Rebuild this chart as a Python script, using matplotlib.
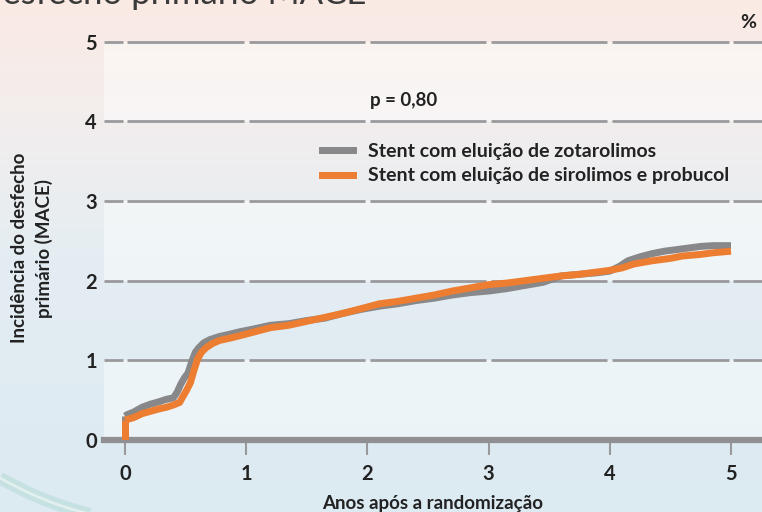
import numpy as np
import matplotlib.pyplot as plt
from matplotlib.lines import Line2D
from matplotlib.path import Path
from matplotlib.patches import PathPatch

plt.rcParams['font.family'] = ['Lato', 'DejaVu Sans']

# Kaplan-Meier style cumulative incidence (%)
years_zot = [0.0, 0.02, 0.07, 0.14, 0.21, 0.28, 0.34, 0.40, 0.43, 0.46, 0.49, 0.52,
             0.55, 0.58, 0.61, 0.65, 0.70, 0.78, 0.87, 0.95, 1.05, 1.20, 1.35, 1.50,
             1.65, 1.80, 1.95, 2.10, 2.25, 2.40, 2.55, 2.70, 2.85, 3.00, 3.15, 3.30,
             3.45, 3.60, 3.75, 3.90, 4.00, 4.08, 4.15, 4.25, 4.35, 4.45, 4.55, 4.65,
             4.75, 4.85, 5.00]
mace_zot = [0.30, 0.32, 0.35, 0.41, 0.45, 0.48, 0.51, 0.53, 0.60, 0.70, 0.78, 0.84,
            0.98, 1.10, 1.16, 1.22, 1.26, 1.30, 1.33, 1.36, 1.39, 1.44, 1.46, 1.50,
            1.53, 1.59, 1.64, 1.68, 1.71, 1.75, 1.78, 1.82, 1.85, 1.87, 1.90, 1.94,
            1.98, 2.06, 2.08, 2.10, 2.12, 2.18, 2.25, 2.30, 2.34, 2.37, 2.39, 2.41,
            2.43, 2.44, 2.44]

years_sir = [0.0, 0.07, 0.14, 0.21, 0.28, 0.34, 0.40, 0.45, 0.48, 0.51, 0.54, 0.57,
             0.60, 0.63, 0.67, 0.72, 0.78, 0.87, 0.95, 1.05, 1.20, 1.35, 1.50, 1.65,
             1.80, 1.95, 2.10, 2.25, 2.40, 2.55, 2.70, 2.85, 3.00, 3.15, 3.30, 3.45,
             3.60, 3.75, 3.90, 4.00, 4.10, 4.20, 4.35, 4.50, 4.60, 4.75, 4.85, 5.00]
mace_sir = [0.25, 0.28, 0.33, 0.36, 0.39, 0.41, 0.44, 0.47, 0.55, 0.63, 0.72, 0.88,
            1.02, 1.10, 1.16, 1.21, 1.25, 1.28, 1.31, 1.35, 1.41, 1.44, 1.49, 1.54,
            1.59, 1.65, 1.71, 1.74, 1.78, 1.82, 1.87, 1.91, 1.95, 1.97, 2.00, 2.03,
            2.06, 2.08, 2.11, 2.13, 2.16, 2.21, 2.25, 2.28, 2.31, 2.33, 2.35, 2.37]

labels = ['Stent com eluição de zotarolimos',
          'Stent com eluição de sirolimos e probucol']
xticks = [0, 1, 2, 3, 4, 5]
yticks = [0, 1, 2, 3, 4, 5]

GRAY = '#88888a'
ORANGE = '#ed7d31'
GRID = '#9a9a9c'
TXT = '#222222'

W, H = 762, 512
fig = plt.figure(figsize=(W / 100, H / 100), dpi=100)

# background gradient (pink on top, pale blue below)
bg = fig.add_axes([0, 0, 1, 1], zorder=-5)
stops = np.array([0.0, 0.25, 0.5, 1.0])
cols = np.array([[251, 234, 228], [242, 238, 238], [228, 237, 242], [220, 234, 242]]) / 255
t = np.linspace(0, 1, 256)
grad = np.stack([np.interp(t, stops, cols[:, k]) for k in range(3)], axis=1)
bg.imshow(grad[:, None, :], aspect='auto', extent=[0, 1, 0, 1])
# faint decorative swoosh lower left
verts = [(0, 34), (25, 20), (55, 6), (90, -2)]
sw = Path([(x / W, y / H) for x, y in verts], [Path.MOVETO, Path.CURVE4, Path.CURVE4, Path.CURVE4])
bg.add_patch(PathPatch(sw, fc='none', ec='#9fd3c4', lw=9, alpha=0.35, transform=bg.transAxes))
bg.add_patch(PathPatch(sw, fc='none', ec='#f4fbf9', lw=2, alpha=0.6, transform=bg.transAxes))
bg.set_xlim(0, 1)
bg.set_ylim(0, 1)
bg.axis('off')

x0, x1 = -21 / 121.2, 637 / 121.2
ax = fig.add_axes([104 / W, 1 - 440 / H, 1 - 104 / W, (440 - 41.7) / H])
ax.patch.set_alpha(0)
ax.set_xlim(x0, x1)
ax.set_ylim(0, 5)
for s in ax.spines.values():
    s.set_visible(False)

# lighter bands
for lo in [0, 2, 4]:
    ax.axhspan(lo, lo + 1, color='white', alpha=0.45, lw=0, zorder=0)

# dashed-looking grid with gaps at the year ticks
gap = 0.02
edges = [x0] + xticks + [x1]
for yv in yticks[1:]:
    for a, b in zip(edges[:-1], edges[1:]):
        xa = a + gap if a != x0 else a
        xb = b - gap if b != x1 else b
        ax.plot([xa, xb], [yv, yv], color=GRID, lw=2, clip_on=False, zorder=1,
                solid_capstyle='butt')

ax.axhline(0, color='#909092', lw=4.5, clip_on=False, zorder=2)

ax.plot(years_zot, mace_zot, color=GRAY, lw=5, zorder=3, solid_capstyle='butt')
ax.plot([0, 0], [0, mace_zot[0]], color=GRAY, lw=5, zorder=3, solid_capstyle='butt')
ax.plot(years_sir, mace_sir, color=ORANGE, lw=5, zorder=4, solid_capstyle='butt')
ax.plot([0, 0], [0, mace_sir[0]], color=ORANGE, lw=5, zorder=4, solid_capstyle='butt')

ax.set_xticks(xticks)
ax.set_xticklabels([str(v) for v in xticks])
ax.set_yticks(yticks)
ax.set_yticklabels([str(v) for v in yticks])
ax.tick_params(axis='x', length=11, width=1.5, color=GRID, pad=6, labelsize=14.5,
               labelcolor=TXT)
ax.tick_params(axis='y', length=0, pad=5, labelsize=14.5, labelcolor=TXT)
for lab in ax.get_xticklabels() + ax.get_yticklabels():
    lab.set_fontweight('bold')

ax.set_xlabel('Anos após a randomização', fontsize=13.5, fontweight='bold', color=TXT,
              labelpad=8)
fig.text(32 / W, 1 - 248 / H, 'Incidência do desfecho\nprimário (MACE)', rotation=90,
         ha='center', va='center', fontsize=13.5, fontweight='bold', color=TXT,
         linespacing=1.45)

ax.text(2.02, 4.26, 'p = 0,80', fontsize=13.5, fontweight='bold', color=TXT,
        va='center', ha='left')
fig.text(748 / W, 1 - 22 / H, '%', fontsize=14, fontweight='bold', color=TXT,
         ha='center', va='center')

# clipped title at the very top
fig.text(-24 / W, 1 - 4 / H, 'Desfecho primário MACE', fontsize=25, color='#3a3a3a',
         ha='left', va='baseline')

handles = [Line2D([], [], color=GRAY, lw=5), Line2D([], [], color=ORANGE, lw=5)]
ax.legend(handles, labels, loc='upper left', bbox_to_anchor=(312 / W, 1 - 133 / H),
          bbox_transform=fig.transFigure, frameon=False, borderpad=0,
          prop={'size': 14, 'weight': 'bold'}, handlelength=1.6,
          handletextpad=0.8, labelspacing=0.4, labelcolor=TXT)

fig.savefig('out.png', dpi=100)
